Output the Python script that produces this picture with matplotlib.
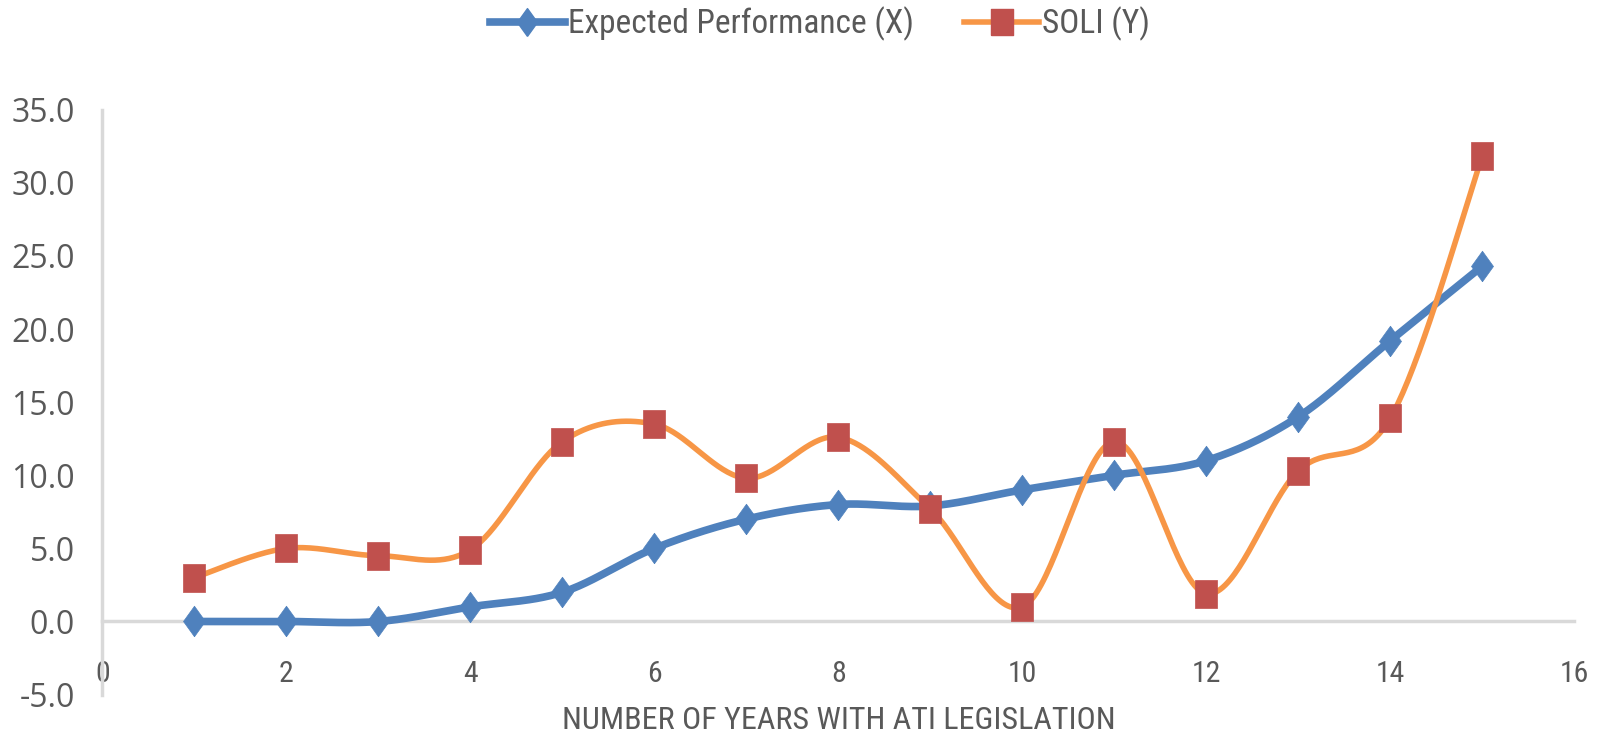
import numpy as np
import matplotlib
matplotlib.use("Agg")
import matplotlib.pyplot as plt
from matplotlib import font_manager as fm
from matplotlib.lines import Line2D

# ---- data ----
years = [1, 2, 3, 4, 5, 6, 7, 8, 9, 10, 11, 12, 13, 14, 15]
expected_performance = [0, 0, 0, 1, 2, 5, 7, 8, 7.9, 9, 10, 11, 14, 19.2, 24.3]
soli = [3.0, 5.0, 4.5, 4.9, 12.3, 13.5, 9.8, 12.6, 7.7, 1.0, 12.3, 1.9, 10.3, 13.9, 31.8]
series_names = ["Expected Performance (X)", "SOLI (Y)"]
x_ticks = [0, 2, 4, 6, 8, 10, 12, 14, 16]
y_ticks = [-5, 0, 5, 10, 15, 20, 25, 30, 35]
x_label = "NUMBER OF YEARS WITH ATI LEGISLATION"

BLUE = "#4F81BD"
ORANGE = "#F79646"
RED = "#C0504D"
TXT = "#595959"
GRID = "#D9D9D9"

names = {f.name for f in fm.fontManager.ttflist}
def pick(cands):
    for c in cands:
        if c in names:
            return c
    return "DejaVu Sans"
narrow = pick(["Liberation Sans Narrow", "Roboto Condensed", "Open Sans Condensed", "Noto Sans Condensed", "Open Sans"])
normal = pick(["Open Sans", "Noto Sans", "DejaVu Sans"])

# custom marker shapes (slightly tall diamond and tall square, as in the reference)
DIAMOND = [(0, -0.5), (0.36, 0), (0, 0.5), (-0.36, 0), (0, -0.5)]
SQUARE = [(-0.41, -0.5), (0.41, -0.5), (0.41, 0.5), (-0.41, 0.5), (-0.41, -0.5)]


def smooth(x, y, n=40):
    """Excel-like smoothed line (Catmull-Rom via cubic Bezier)."""
    x = np.asarray(x, float); y = np.asarray(y, float)
    P = np.column_stack([x, y])
    Pext = np.vstack([P[0], P, P[-1]])
    out = []
    t = np.linspace(0, 1, n)[:, None]
    for i in range(len(P) - 1):
        p0 = Pext[i + 1]; p3 = Pext[i + 2]
        c1 = p0 + (Pext[i + 2] - Pext[i]) / 6.0
        c2 = p3 - (Pext[i + 3] - Pext[i + 1]) / 6.0
        seg = ((1 - t) ** 3) * p0 + 3 * ((1 - t) ** 2) * t * c1 + 3 * (1 - t) * t ** 2 * c2 + t ** 3 * p3
        out.append(seg if i == 0 else seg[1:])
    s = np.vstack(out)
    return s[:, 0], s[:, 1]


fig = plt.figure(figsize=(16.08, 7.41), dpi=100)
ax = fig.add_axes([0.0637, 0.0626, 0.979 - 0.0637, 0.852 - 0.0626])
ax.set_xlim(0, 16)
ax.set_ylim(-5, 35)

for s in ["top", "right"]:
    ax.spines[s].set_visible(False)
ax.spines["bottom"].set_position(("data", 0))
ax.spines["bottom"].set_color(GRID)
ax.spines["bottom"].set_linewidth(2.5)
ax.spines["left"].set_color(GRID)
ax.spines["left"].set_linewidth(2.5)

ax.set_xticks(x_ticks)
ax.set_xticklabels([str(v) for v in x_ticks], fontsize=21.5, color=TXT, family=narrow)
ax.set_yticks(y_ticks)
ax.set_yticklabels([f"{v:.1f}" for v in y_ticks], fontsize=23, color=TXT, family=normal)
ax.tick_params(axis="x", length=0, pad=28)
ax.tick_params(axis="y", length=0, pad=20)
ax.set_xlabel(x_label, fontsize=23, color=TXT, family=narrow, labelpad=13)

sx, sy = smooth(years, expected_performance)
ax.plot(sx, sy, color=BLUE, lw=5.5, solid_capstyle="round", zorder=3)
ax.plot(years, expected_performance, linestyle="none", marker=DIAMOND, markersize=22,
        color=BLUE, markeredgecolor=BLUE, markeredgewidth=0.5, zorder=4)

sx, sy = smooth(years, soli)
ax.plot(sx, sy, color=ORANGE, lw=4, solid_capstyle="round", zorder=5)
ax.plot(years, soli, linestyle="none", marker=SQUARE, markersize=20,
        color=RED, markeredgecolor=RED, markeredgewidth=0.5, zorder=6)

handles = [
    Line2D([], [], color=BLUE, lw=5.5, marker=DIAMOND, markersize=20),
    Line2D([], [], color=ORANGE, lw=4, marker=SQUARE, markersize=19,
           markerfacecolor=RED, markeredgecolor=RED),
]
leg = fig.legend(handles, series_names, loc="center", bbox_to_anchor=(0.51, 0.968),
                 ncol=2, frameon=False, handlelength=2.25, columnspacing=1.5,
                 handletextpad=0.1, prop={"family": narrow, "size": 24})
for t in leg.get_texts():
    t.set_color(TXT)

fig.savefig("out.png", dpi=100)
